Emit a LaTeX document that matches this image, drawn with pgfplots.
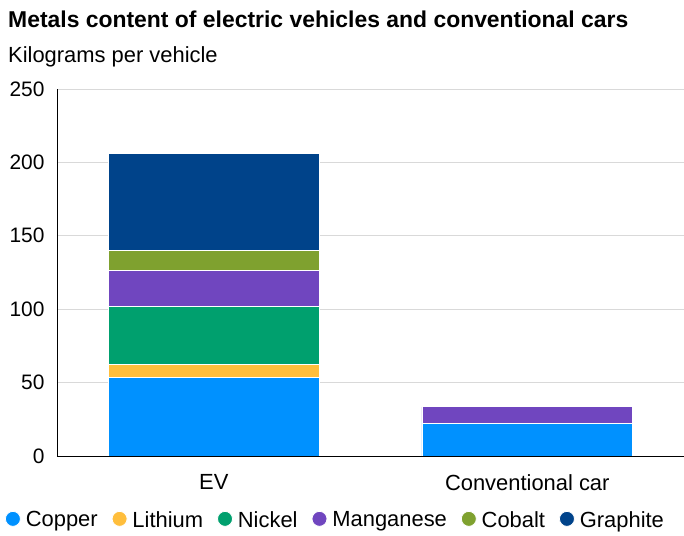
\documentclass[border=0pt]{standalone}
\usepackage{pgfplots}
\pgfplotsset{compat=1.18}
\usepackage{fontspec}
\setmainfont{Liberation Sans}
\definecolor{cCopper}{HTML}{0091FF}
\definecolor{cLithium}{HTML}{FFBE3C}
\definecolor{cNickel}{HTML}{00A06E}
\definecolor{cManganese}{HTML}{7046BF}
\definecolor{cCobalt}{HTML}{7FA12F}
\definecolor{cGraphite}{HTML}{00438A}
\begin{document}
\begin{tikzpicture}[x=1bp,y=1bp]
\path[use as bounding box] (-57,-80) rectangle (627,456);
\node[anchor=base west, inner sep=0pt, font=\bfseries\fontsize{23}{26}\selectfont] at (-49,428) {Metals content of electric vehicles and conventional cars};
\node[anchor=base west, inner sep=0pt, font=\fontsize{22}{25}\selectfont] at (-49,393) {Kilograms per vehicle};
\begin{axis}[
  at={(0,0)}, anchor=south west,
  scale only axis, width=627bp, height=367bp,
  xmin=-0.5, xmax=1.5, ymin=0, ymax=250,
  ytick={0,50,...,250}, xtick={0,1},
  xticklabels={EV,Conventional car},
  ymajorgrids, grid style={gray!30, line width=0.8bp},
  axis lines=left, axis line style={-, black, line width=0.8bp},
  major tick length=0pt,
  /pgf/number format/assume math mode=true,
  tick label style={font=\fontsize{21}{24}\selectfont},
  yticklabel style={xshift=-9bp},
  xticklabel style={yshift=-15bp, font=\fontsize{22}{24}\selectfont},
  ybar stacked, bar width=0.672,
  every axis plot/.append style={draw=white, line width=0.8bp},
  legend columns=6,
  legend image code/.code={\fill[#1] (0bp,1bp) circle (7.5bp);},
  legend style={draw=none, fill=none, at={(-0.088,-0.174)}, anchor=west,
    font=\fontsize{22}{25}\selectfont,
    /tikz/every odd column/.append style={column sep=3bp},
    /tikz/every even column/.append style={column sep=12bp}},
]
\addplot[fill=cCopper] coordinates {(0,53.2) (1,22.3)};
\addplot[fill=cLithium] coordinates {(0,8.9) (1,0)};
\addplot[fill=cNickel] coordinates {(0,39.9) (1,0)};
\addplot[fill=cManganese] coordinates {(0,24.5) (1,11.2)};
\addplot[fill=cCobalt] coordinates {(0,13.3) (1,0)};
\addplot[fill=cGraphite] coordinates {(0,66.3) (1,0)};
\legend{Copper,Lithium,Nickel,Manganese,Cobalt,Graphite}
\end{axis}
\end{tikzpicture}
\end{document}
